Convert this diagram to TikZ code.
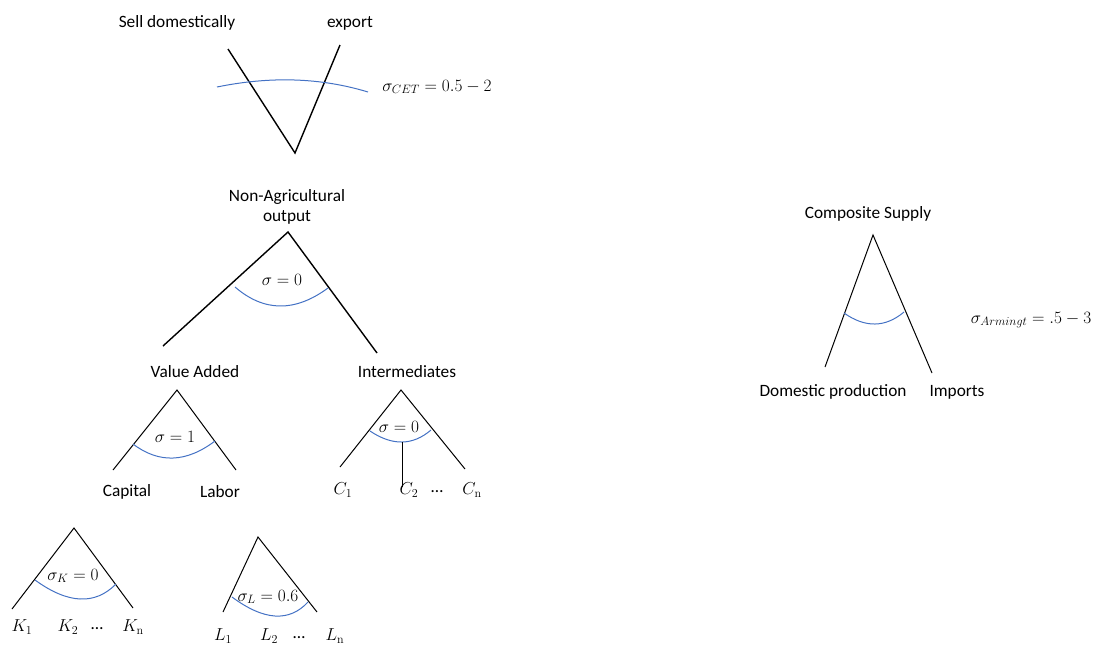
\documentclass[tikz,border=0pt]{standalone}
\usepackage{fix-cm}
\usepackage[no-math]{fontspec}
\setmainfont{Carlito}
\definecolor{arcblue}{RGB}{68,114,196}
\tikzset{
  lbl/.style={inner sep=0pt, font=\fontsize{17.3}{20.5}\selectfont},
  mlbl/.style={inner sep=0pt, font=\fontsize{17.3}{20.5}\selectfont},
  edge/.style={line width=1pt, black},
  thick edge/.style={line width=1.4pt, black},
  elas/.style={draw=arcblue, line width=1pt},
}
\begin{document}
\begin{tikzpicture}[x=1pt,y=-1pt]
\useasboundingbox (0,0) rectangle (1107,646);

% --- CET (top) ---
\node[lbl] (sell) at (177,23) {Sell domestically};
\node[lbl] (export) at (350,23) {export};
\coordinate (tl) at (228,49);
\coordinate (tb) at (295,153);
\coordinate (tr) at (340,45);
\draw[thick edge] (tl) -- (tb) -- (tr);
\coordinate (cetA) at (217,87);
\coordinate (cetB) at (368,92);
\draw[elas] (cetA) .. controls (270.7,76) and (321,77.7) .. (cetB);
\node[mlbl] (cet) at (437,87) {$\sigma_{CET}=0.5-2$};

% --- Non-agricultural output ---
\node[lbl, align=center] (nonag) at (287,207) {Non-Agricultural\\output};
\coordinate (na) at (288,232);
\coordinate (nal) at (163,346);
\coordinate (nar) at (377,353);
\draw[thick edge] (nal) -- (na) -- (nar);
\coordinate (naA) at (235,287);
\coordinate (naB) at (328,288);
\draw[elas] (naA) .. controls (264,312) and (295,312.3) .. (naB);
\node[mlbl] (nasig) at (282,280) {$\sigma=0$};

% --- Value added ---
\node[lbl] (va) at (195,372) {Value Added};
\coordinate (vaT) at (177,390);
\coordinate (vaL) at (113,470);
\coordinate (vaR) at (236,470);
\draw[edge] (vaL) -- (vaT) -- (vaR);
\coordinate (vaA) at (133,444);
\coordinate (vaB) at (215,441);
\draw[elas] (vaA) .. controls (159,463.7) and (186.3,462.7) .. (vaB);
\node[mlbl] (vasig) at (175,437) {$\sigma=1$};
\node[lbl] (capital) at (127,492) {Capital};
\node[lbl] (labor) at (220,492) {Labor};

% --- Intermediates ---
\node[lbl] (int) at (407,372) {Intermediates};
\coordinate (inT) at (401,390);
\coordinate (inL) at (340,467);
\coordinate (inR) at (465,469);
\draw[edge] (inL) -- (inT) -- (inR);
\coordinate (inA) at (370,431);
\coordinate (inB) at (431,430);
\coordinate (inM) at (402,442);
\coordinate (inD) at (402,487);
\draw[elas] (inA) .. controls (392.3,446) and (412.7,445.7) .. (inB);
\draw[edge] (inM) -- (inD);
\node[mlbl] (insig) at (399,427) {$\sigma=0$};
\node[mlbl] (c1) at (343,490) {$C_1$};
\node[mlbl] (c2) at (409,490) {$C_2$};
\node[lbl] (cdots) at (437,492) {…};
\node[mlbl] (cn) at (472,490) {$C_{\mathrm{n}}$};

% --- Capital nest ---
\coordinate (kT) at (74,528);
\coordinate (kL) at (12,609);
\coordinate (kR) at (133,608);
\draw[edge] (kL) -- (kT) -- (kR);
\coordinate (kA) at (35,580);
\coordinate (kB) at (116,584);
\draw[elas] (kA) .. controls (68,604) and (95,605.3) .. (kB);
\node[mlbl] (ksig) at (73,576) {$\sigma_K=0$};
\node[mlbl] (k1) at (22,627) {$K_1$};
\node[mlbl] (k2) at (68,627) {$K_2$};
\node[lbl] (kdots) at (97,629) {…};
\node[mlbl] (kn) at (133,627) {$K_{\mathrm{n}}$};

% --- Labor nest ---
\coordinate (lT) at (258,537);
\coordinate (lL) at (223,612);
\coordinate (lR) at (317,612);
\draw[edge] (lL) -- (lT) -- (lR);
\coordinate (lA) at (232,597);
\coordinate (lB) at (308,602);
\draw[elas] (lA) .. controls (264,620.7) and (289.3,622.3) .. (lB);
\node[mlbl] (lsig) at (268,597) {$\sigma_L=0.6$};
\node[mlbl] (l1) at (223,636) {$L_1$};
\node[mlbl] (l2) at (269,636) {$L_2$};
\node[lbl] (ldots) at (299,638) {…};
\node[mlbl] (ln) at (335,636) {$L_{\mathrm{n}}$};

% --- Armington ---
\node[lbl] (comp) at (868,214) {Composite Supply};
\coordinate (cT) at (873,235);
\coordinate (cL) at (825,367);
\coordinate (cR) at (932,373);
\draw[edge] (cL) -- (cT) -- (cR);
\coordinate (cA) at (844,313);
\coordinate (cB) at (904,312);
\draw[elas] (cA) .. controls (865.3,328) and (885.3,327.7) .. (cB);
\node[mlbl] (arm) at (1031,320) {$\sigma_{Armingt}=.5-3$};
\node[lbl] (dom) at (833,392) {Domestic production};
\node[lbl] (imp) at (957,392) {Imports};
\end{tikzpicture}
\end{document}
